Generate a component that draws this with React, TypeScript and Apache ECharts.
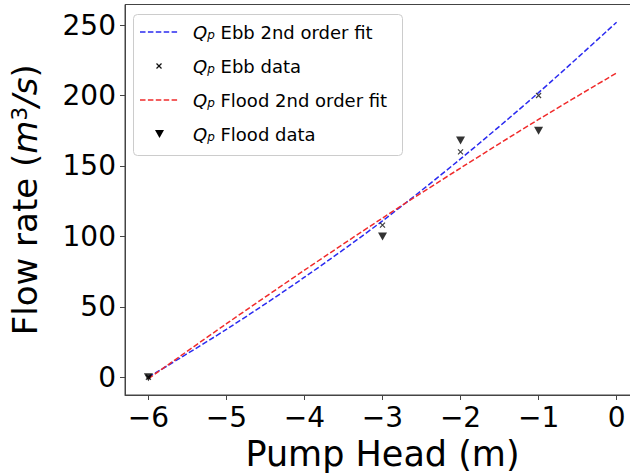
import React, { useEffect, useRef } from "react";
import * as echarts from "echarts";

const xTicks = [-6, -5, -4, -3, -2, -1, 0];
const yTicks = [0, 50, 100, 150, 200, 250];
const fitX = [-6, -5, -4, -3, -2, -1, 0];
const ebbFit = [0, 34, 71, 111, 155, 202, 252];
const floodFit = [-1, 38, 76, 113, 148.5, 183, 216];
const dataX = [-6, -3, -2, -1];
const ebbData = [0, 108, 160, 200];
const floodData = [0, 100, 168, 175];

const legendLabels = ["Ebb 2nd order fit", "Ebb data", "Flood 2nd order fit", "Flood data"];

const FONT = "DejaVu Sans";
const BLUE = "#2b2bf0";
const RED = "#f02b2b";

export default function App() {
  const ref = useRef<HTMLDivElement>(null);
  useEffect(() => {
    if (!ref.current) return;
    const chart = echarts.init(ref.current, null, { renderer: "svg" });
    const pair = (xs: number[], ys: number[]) => xs.map((x, i) => [x, ys[i]]);
    const minus = (v: number) => (v < 0 ? "\u2212" + Math.abs(v) : String(v));
    const dash = [5.5, 2.4];
    const rows = [32, 66, 100, 134];
    const legendRich = {
      q: { fontFamily: FONT, fontSize: 18, fontStyle: "italic", fill: "#000" },
      sub: { fontFamily: FONT, fontSize: 12, fontStyle: "italic", fill: "#000", verticalAlign: "bottom" },
      t: { fontFamily: FONT, fontSize: 18, fill: "#000" },
    };
    const legendTexts = legendLabels.map((l, i) => ({
      type: "text",
      x: 193,
      y: rows[i],
      z: 101,
      style: {
        text: "{q|Q}{sub|p}{t| " + l + "}",
        rich: legendRich,
        verticalAlign: "middle",
        align: "left",
      },
    }));
    chart.setOption({
      animation: false,
      backgroundColor: "#ffffff",
      textStyle: { fontFamily: FONT },
      grid: {
        left: 125,
        top: 4.5,
        right: 2,
        bottom: 80,
        show: true,
        borderColor: "#444",
        borderWidth: 1,
        backgroundColor: "transparent",
      },
      graphic: [
        {
          type: "rect",
          z: 100,
          shape: { x: 133.5, y: 14.5, width: 269, height: 141, r: 4 },
          style: { fill: "rgba(255,255,255,0.85)", stroke: "#cccccc", lineWidth: 1 },
        },
        {
          type: "line",
          z: 101,
          shape: { x1: 140, y1: rows[0], x2: 179, y2: rows[0] },
          style: { stroke: BLUE, lineWidth: 1.5, lineDash: dash },
        },
        {
          type: "line",
          z: 101,
          shape: { x1: 156.5, y1: rows[1] - 2.5, x2: 161.5, y2: rows[1] + 2.5 },
          style: { stroke: "#111", lineWidth: 1.2 },
        },
        {
          type: "line",
          z: 101,
          shape: { x1: 156.5, y1: rows[1] + 2.5, x2: 161.5, y2: rows[1] - 2.5 },
          style: { stroke: "#111", lineWidth: 1.2 },
        },
        {
          type: "line",
          z: 101,
          shape: { x1: 140, y1: rows[2], x2: 179, y2: rows[2] },
          style: { stroke: RED, lineWidth: 1.5, lineDash: dash },
        },
        {
          type: "polygon",
          z: 101,
          shape: {
            points: [
              [155, rows[3] - 4],
              [164, rows[3] - 4],
              [159.5, rows[3] + 4],
            ],
          },
          style: { fill: "#000" },
        },
        ...legendTexts,
      ],
      xAxis: {
        type: "value",
        min: -6.3,
        max: 0.3,
        name: "Pump Head (m)",
        nameLocation: "middle",
        nameGap: 41,
        nameTextStyle: { fontFamily: FONT, fontSize: 35, color: "#000" },
        splitLine: { show: false },
        axisLine: { show: true, onZero: false, lineStyle: { color: "#444", width: 1 } },
        axisTick: {
          show: true,
          length: 5,
          customValues: xTicks,
          lineStyle: { color: "#444" },
        },
        axisLabel: {
          customValues: xTicks,
          formatter: minus,
          fontFamily: FONT,
          fontSize: 28,
          color: "#000",
          margin: 8,
        },
      },
      yAxis: {
        type: "value",
        min: -12.6,
        max: 264.6,
        name: "{n|Flow rate (}{i|m}{s|3}{i|/s}{n|)}",
        nameLocation: "middle",
        nameGap: 83,
        nameTextStyle: {
          fontFamily: FONT,
          fontSize: 34,
          color: "#000",
          rich: {
            n: { fontFamily: FONT, fontSize: 34, color: "#000" },
            i: { fontFamily: FONT, fontSize: 34, fontStyle: "italic", color: "#000" },
            s: { fontFamily: FONT, fontSize: 22, color: "#000", verticalAlign: "top" },
          },
        },
        splitLine: { show: false },
        axisLine: { show: true, onZero: false, lineStyle: { color: "#444", width: 1 } },
        axisTick: {
          show: true,
          length: 5,
          customValues: yTicks,
          lineStyle: { color: "#444" },
        },
        axisLabel: {
          customValues: yTicks,
          fontFamily: FONT,
          fontSize: 28,
          color: "#000",
          margin: 9,
        },
      },
      series: [
        {
          name: "Qp Ebb data",
          type: "scatter",
          data: pair(dataX, ebbData),
          symbol: "path://M0,0L10,10M10,0L0,10",
          symbolSize: 5,
          itemStyle: { color: "#111", borderColor: "#111", borderWidth: 1.2 },
          z: 3,
        },
        {
          name: "Qp Flood data",
          type: "scatter",
          data: pair(dataX, floodData),
          symbol: "triangle",
          symbolRotate: 180,
          symbolSize: [9, 8],
          itemStyle: { color: "#000" },
          z: 3,
        },
        {
          name: "Qp Ebb 2nd order fit",
          type: "line",
          data: pair(fitX, ebbFit),
          smooth: 0.3,
          showSymbol: false,
          symbol: "none",
          lineStyle: { color: BLUE, width: 1.5, type: dash },
          itemStyle: { color: BLUE },
          z: 2,
        },
        {
          name: "Qp Flood 2nd order fit",
          type: "line",
          data: pair(fitX, floodFit),
          smooth: 0.3,
          showSymbol: false,
          symbol: "none",
          lineStyle: { color: RED, width: 1.5, type: dash },
          itemStyle: { color: RED },
          z: 2,
        },
      ],
    });
    return () => chart.dispose();
  }, []);
  return (
    <div style={{ position: "absolute", left: 0, top: 0, width: 630, height: 476, overflow: "hidden" }}>
      <div ref={ref} style={{ width: 642, height: 476 }} />
    </div>
  );
}
